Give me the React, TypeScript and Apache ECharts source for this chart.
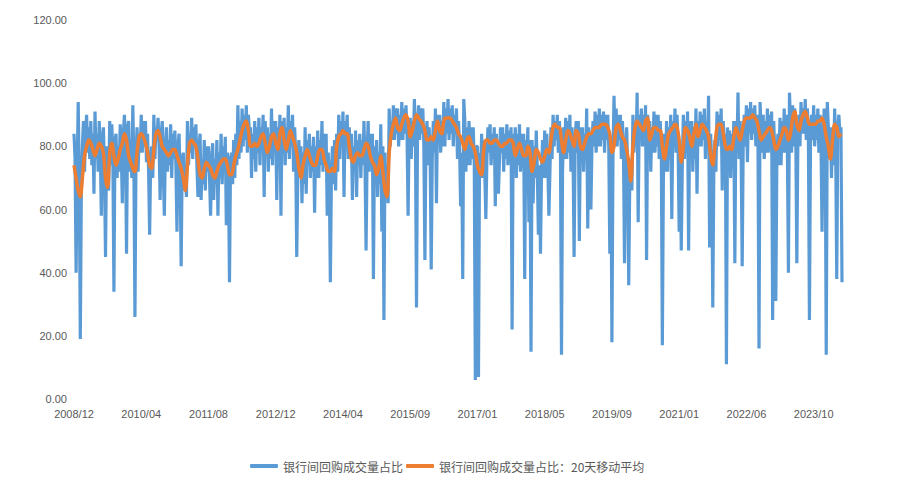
import React, { useEffect, useRef } from "react";
import * as echarts from "echarts";

// x-axis tick labels (one every 64 data points)
const tickLabels = [
  "2008/12", "2010/04", "2011/08", "2012/12", "2014/04", "2015/09",
  "2017/01", "2018/05", "2019/09", "2021/01", "2022/06", "2023/10",
];

// 银行间回购成交量占比 (4 per row-group)
const shareValues = [
  84, 76, 40, 72, 94, 70, 19, 66, 80, 88, 72, 84, 90, 78, 86, 76,
  88, 74, 84, 65, 91, 76, 84, 72, 88, 79, 58, 82, 86, 72, 45, 80,
  70, 66, 88, 74, 87, 76, 34, 82, 84, 70, 80, 72, 87, 78, 62, 84,
  90, 80, 46, 86, 88, 72, 82, 70, 93, 74, 26, 76, 86, 72, 84, 78,
  90, 78, 88, 80, 88, 75, 84, 72, 52, 76, 80, 70, 90, 76, 86, 82,
  89, 80, 63, 84, 88, 72, 58, 80, 86, 72, 82, 74, 87, 70, 84, 76,
  85, 74, 53, 80, 84, 70, 42, 76, 78, 66, 74, 64, 88, 74, 84, 78,
  89, 76, 86, 80, 87, 74, 64, 80, 84, 63, 76, 68, 82, 66, 80, 72,
  80, 70, 58, 76, 81, 63, 76, 68, 82, 58, 78, 70, 84, 68, 80, 72,
  83, 55, 78, 72, 37, 76, 78, 68, 82, 70, 84, 74, 93, 76, 88, 78,
  92, 80, 90, 82, 93, 78, 90, 84, 86, 70, 84, 76, 88, 72, 86, 78,
  89, 74, 86, 80, 90, 64, 88, 78, 86, 72, 84, 76, 92, 74, 88, 80,
  88, 63, 86, 76, 90, 58, 88, 80, 89, 74, 86, 78, 93, 76, 88, 80,
  90, 72, 86, 78, 45, 70, 82, 72, 80, 62, 78, 68, 86, 65, 82, 74,
  84, 70, 80, 72, 83, 59, 80, 70, 85, 70, 82, 74, 88, 72, 84, 74,
  84, 58, 78, 70, 37, 70, 80, 68, 82, 66, 84, 72, 90, 76, 88, 80,
  91, 64, 88, 80, 90, 76, 86, 78, 84, 63, 80, 72, 85, 64, 82, 74,
  84, 70, 82, 74, 88, 74, 47, 78, 88, 72, 84, 74, 84, 38, 80, 70,
  82, 64, 78, 68, 87, 53, 80, 25, 78, 64, 72, 62, 92, 80, 88, 82,
  93, 82, 92, 84, 92, 80, 90, 82, 94, 82, 92, 84, 93, 84, 58, 86,
  89, 76, 88, 80, 95, 82, 29, 86, 93, 82, 92, 84, 92, 80, 44, 82,
  88, 74, 86, 78, 41, 76, 88, 78, 92, 62, 90, 82, 90, 78, 88, 80,
  94, 80, 92, 84, 95, 82, 92, 84, 93, 80, 90, 84, 92, 76, 88, 80,
  61, 78, 38, 95, 88, 72, 86, 74, 88, 74, 86, 76, 86, 74, 6, 80,
  80, 7, 78, 70, 84, 70, 82, 72, 57, 76, 86, 78, 87, 74, 84, 76,
  86, 61, 84, 76, 65, 76, 86, 78, 86, 72, 84, 76, 87, 74, 85, 76,
  86, 22, 84, 76, 86, 70, 84, 74, 87, 72, 84, 76, 84, 38, 82, 74,
  86, 56, 82, 15, 82, 62, 80, 70, 85, 72, 52, 74, 46, 72, 82, 70,
  85, 70, 84, 74, 58, 72, 86, 76, 90, 80, 88, 82, 90, 78, 88, 80,
  14, 72, 86, 76, 89, 76, 88, 78, 90, 72, 86, 78, 45, 82, 88, 78,
  88, 50, 86, 76, 86, 72, 84, 76, 92, 54, 86, 78, 60, 80, 88, 80,
  91, 78, 90, 80, 92, 80, 90, 82, 91, 78, 90, 82, 90, 80, 46, 82,
  18, 76, 96, 80, 92, 80, 90, 82, 90, 76, 88, 78, 43, 78, 86, 74,
  36, 70, 76, 66, 90, 78, 88, 80, 97, 56, 90, 82, 92, 80, 90, 80,
  93, 44, 90, 84, 88, 72, 86, 78, 91, 78, 90, 80, 90, 76, 88, 80,
  17, 70, 84, 72, 88, 72, 86, 76, 90, 57, 88, 80, 92, 78, 90, 80,
  53, 76, 47, 74, 90, 76, 88, 78, 91, 47, 88, 78, 88, 72, 86, 76,
  92, 65, 88, 80, 91, 80, 90, 82, 92, 76, 88, 80, 96, 48, 84, 74,
  29, 72, 82, 72, 91, 80, 90, 82, 92, 66, 88, 80, 84, 11, 86, 76,
  85, 70, 84, 74, 88, 43, 88, 78, 97, 76, 88, 78, 42, 82, 90, 80,
  93, 75, 92, 84, 94, 82, 92, 84, 93, 80, 90, 84, 16, 94, 86, 78,
  90, 76, 88, 78, 92, 78, 90, 80, 91, 25, 88, 78, 31, 76, 84, 74,
  89, 74, 88, 78, 92, 78, 90, 80, 40, 97, 88, 78, 93, 80, 92, 84,
  43, 82, 90, 80, 94, 84, 92, 84, 95, 82, 92, 84, 25, 80, 90, 82,
  93, 80, 90, 82, 92, 78, 90, 82, 53, 82, 92, 84, 14, 94, 86, 76,
  86, 70, 84, 74, 92, 80, 38, 86, 90, 84, 86, 37,
];

// 银行间回购成交量占比：20天移动平均 (one value per 2 blue points)
const maValues = [
  74, 70, 66, 64, 70, 77, 80, 82, 81, 79, 77, 79, 81, 80, 78, 70, 67, 78, 81, 77,
  74, 76, 79, 81, 84, 82, 77, 75, 73, 72, 78, 83, 84, 83, 81, 78, 74, 73, 79, 84,
  85, 83, 80, 79, 78, 77, 78, 79, 79, 77, 75, 73, 70, 66, 74, 81, 82, 81, 80, 76,
  71, 70, 73, 75, 74, 73, 71, 70, 72, 74, 75, 76, 76, 74, 71, 71, 74, 77, 79, 82,
  85, 87, 88, 85, 80, 80, 81, 80, 81, 83, 84, 81, 78, 80, 83, 84, 81, 79, 84, 86,
  82, 79, 82, 85, 83, 81, 78, 73, 70, 74, 77, 79, 77, 75, 74, 74, 77, 79, 79, 76,
  74, 72, 72, 73, 72, 80, 83, 84, 85, 84, 84, 80, 76, 75, 77, 78, 77, 77, 79, 81,
  80, 77, 75, 74, 71, 73, 77, 72, 66, 64, 78, 84, 87, 89, 86, 85, 87, 89, 90, 88,
  83, 85, 88, 90, 89, 88, 87, 85, 82, 82, 83, 82, 85, 88, 85, 84, 88, 89, 89, 89,
  88, 87, 86, 84, 83, 81, 79, 82, 83, 81, 80, 78, 74, 72, 71, 79, 82, 82, 81, 81,
  82, 82, 81, 80, 80, 81, 81, 82, 82, 81, 77, 79, 81, 79, 77, 77, 80, 78, 72, 75,
  79, 78, 76, 75, 77, 79, 78, 82, 86, 87, 86, 86, 82, 78, 82, 85, 84, 82, 80, 85,
  84, 80, 79, 81, 83, 84, 84, 85, 86, 86, 86, 87, 87, 87, 86, 84, 78, 80, 86, 87,
  85, 83, 82, 79, 75, 69, 80, 86, 88, 87, 86, 85, 88, 89, 82, 84, 86, 86, 85, 85,
  80, 76, 80, 84, 85, 86, 87, 86, 82, 75, 80, 86, 85, 83, 80, 84, 87, 83, 85, 87,
  86, 85, 83, 77, 74, 80, 86, 87, 87, 84, 80, 79, 80, 79, 83, 86, 84, 82, 85, 88,
  89, 89, 89, 90, 89, 88, 85, 82, 83, 84, 85, 86, 85, 82, 79, 80, 82, 84, 86, 85,
  82, 84, 89, 91, 87, 85, 88, 90, 91, 89, 87, 87, 87, 87, 88, 88, 89, 87, 83, 80,
  76, 82, 87, 86, 83, 84,
];

const LABEL_STEP = 64;
const categories = shareValues.map((_, i) =>
  i % LABEL_STEP === 0
    ? tickLabels[i / LABEL_STEP]
    : `${tickLabels[Math.floor(i / LABEL_STEP)]}-${i % LABEL_STEP}`
);
const maData = maValues.map((v, i) => [i * 2, v]);

export default function App() {
  const ref = useRef<HTMLDivElement>(null);

  useEffect(() => {
    if (!ref.current) return;
    const chart = echarts.init(ref.current, null, { renderer: "svg" });
    const axisText = {
      color: "#595959",
      fontSize: 11,
      fontFamily: "Liberation Sans, Arial, sans-serif",
    };
    chart.setOption({
      animation: false,
      backgroundColor: "#ffffff",
      grid: { left: 66, right: 63, top: 12, bottom: 89, containLabel: false },
      legend: {
        bottom: 16,
        left: 242,
        padding: 0,
        itemWidth: 28,
        itemHeight: 4,
        itemGap: 3,
        icon: "roundRect",
        textStyle: {
          color: "#595959",
          fontSize: 12,
          fontFamily: "Noto Sans CJK SC, sans-serif",
        },
        data: ["银行间回购成交量占比", "银行间回购成交量占比：20天移动平均"],
      },
      graphic: [
        {
          type: "line",
          shape: { x1: 887.5, y1: 0, x2: 887.5, y2: 472 },
          style: { stroke: "#d6d6de", lineWidth: 1.5 },
          silent: true,
          z: 100,
        },
      ],
      xAxis: {
        type: "category",
        data: categories,
        boundaryGap: false,
        axisLine: { show: false },
        axisTick: { show: false },
        splitLine: { show: false },
        axisLabel: { ...axisText, interval: LABEL_STEP - 1, margin: 9 },
      },
      yAxis: {
        type: "value",
        min: 0,
        max: 120,
        interval: 20,
        axisLine: { show: false },
        axisTick: { show: false },
        splitLine: { show: false },
        axisLabel: {
          ...axisText,
          margin: 7,
          formatter: (v: number) => v.toFixed(2),
        },
      },
      series: [
        {
          name: "银行间回购成交量占比",
          type: "line",
          data: shareValues,
          showSymbol: false,
          symbol: "none",
          lineStyle: { color: "#5B9BD5", width: 3.2 },
          itemStyle: { color: "#5B9BD5" },
        },
        {
          name: "银行间回购成交量占比：20天移动平均",
          type: "line",
          data: maData,
          showSymbol: false,
          symbol: "none",
          smooth: 0.3,
          lineStyle: { color: "#ED7D31", width: 3.5 },
          itemStyle: { color: "#ED7D31" },
        },
      ],
    });
    return () => chart.dispose();
  }, []);

  return <div ref={ref} style={{ width: 897, height: 480 }} />;
}
